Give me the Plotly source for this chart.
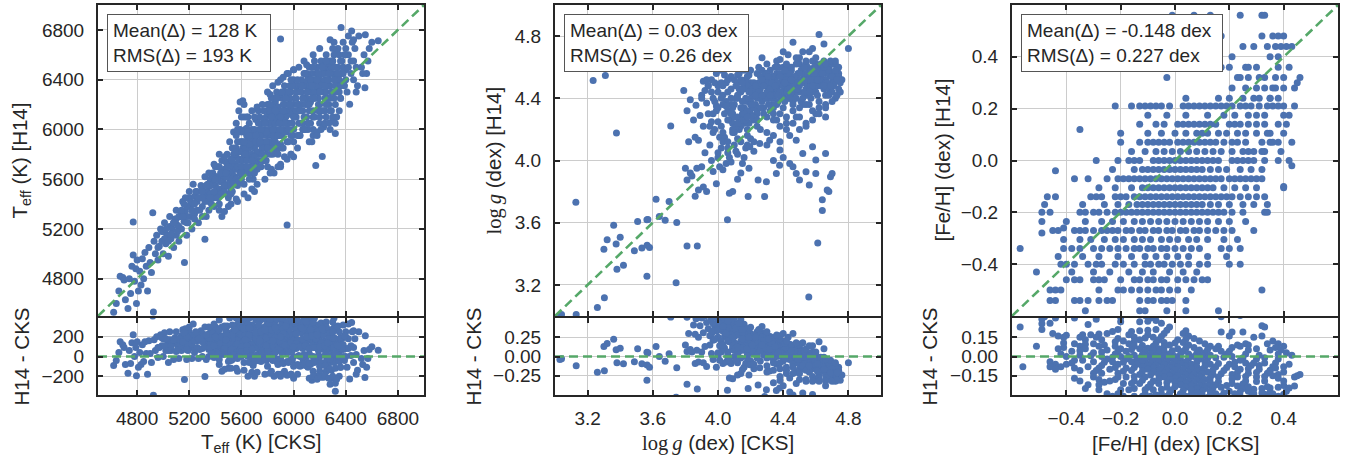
import plotly.graph_objects as go

# ---------------- Teff panel data (K) ----------------
teff_cks = [
    4620,4640,4660,4670,4690,4700,4710,4730,4740,4750,
    4760,4770,4770,4780,4790,4795,4800,4810,4820,4830,
    4840,4850,4860,4870,4880,4890,4900,4910,4920,4925,
    4930,4940,4950,4960,4970,4980,4990,5000,5000,5010,
    5020,5030,5040,5050,5050,5060,5070,5080,5090,5100,
    5100,5110,5120,5130,5140,5150,5160,5163,5170,5180,
    5190,5200,5200,5210,5220,5230,5240,5250,5260,5270,
    5280,5290,5300,5310,5320,5320,5330,5340,5350,5360,
    4960,4990,5020,5060,5080,5120,5140,5180,5210,5240,
    5260,5280,5300,5330,5350,5010,5040,5110,5170,5230,
    5370,5380,5390,5400,5400,5410,5420,5430,5440,5450,
    5450,5460,5470,5480,5490,5500,5500,5510,5520,5530,
    5530,5540,5550,5560,5570,5570,5580,5590,5600,5600,
    5610,5620,5630,5640,5650,5650,5660,5670,5680,5690,
    5700,5700,5710,5720,5730,5740,5750,5760,5770,5780,
    5380,5420,5460,5490,5520,5550,5580,5610,5640,5670,
    5400,5440,5480,5530,5560,5600,5630,5660,5690,5720,
    5420,5470,5510,5540,5590,5620,5650,5680,5710,5740,
    5540,5560,5580,5600,5620,5640,5590,5610,5630,5570,
    5450,5500,5560,5620,5680,5720,5470,5650,5700,5520,
    5790,5800,5800,5810,5820,5830,5840,5850,5860,5870,
    5880,5890,5900,5900,5910,5920,5930,5940,5950,5960,
    5970,5980,5990,6000,6000,6010,6020,6030,6040,6050,
    5790,5810,5830,5850,5870,5890,5910,5930,5950,5970,
    5800,5820,5840,5860,5880,5900,5920,5940,5960,5980,
    5760,5780,5800,5820,5840,5860,5880,5900,5920,5940,
    5780,5830,5880,5930,5980,6030,5850,5950,6000,5900,
    6060,6070,6080,6090,6100,6100,6110,6120,6130,6140,
    6150,6160,6170,6180,6190,6200,6210,6220,6230,6240,
    6250,6260,6270,6280,6290,6300,6310,6320,6330,6340,
    6350,6360,6370,6380,6390,6400,6364,6410,6420,6430,
    6060,6080,6100,6120,6140,6160,6180,6200,6220,6240,
    6070,6090,6110,6130,6150,6170,6190,6210,6230,6250,
    6260,6280,6300,6320,6340,6360,6380,6050,6090,6130,
    6150,6200,6250,6300,6350,6180,6280,6320,6120,6230,
    6440,6450,6460,6470,6480,6500,6520,6540,6547,6550,
    6560,6580,6600,6649,6460,6490,6445,6530,6570,6420,
    6280,6310,6200,6250,6330,6100,6000,5950,6400,6150,
    5300,5320,5340,5360,5380,5400,5420,5440,5460,5480,
    5500,5520,5540,5560,5580,5600,5620,5640,5660,5680,
    5700,5720,5740,5760,5780,5800,5820,5840,5860,5880,
    5900,5920,5940,5960,5980,6000,6020,6040,6060,6080,
    6100,6120,6140,6160,6180,6200,6220,6240,6260,6280,
    6300,6320,6340,6360,6380,6400,6420,6440,6460,6480,
    5410,5430,5450,5470,5490,5510,5530,5550,5570,5590,
    5610,5630,5650,5670,5690,5710,5730,5750,5770,5790,
    5810,5830,5850,5870,5890,5910,5930,5950,5970,5990,
    6010,6030,6050,6070,6090,6110,6130,6150,6170,6190,
    6210,6230,6250,6270,6290,6310,6330,6350,6370,6390,
    5350,5390,5430,5470,5510,5550,5590,5630,5670,5710,
    5750,5790,5830,5870,5910,5950,5990,6030,6070,6110,
    6150,6190,6230,6270,6310,6350,5560,5600,5640,5680,
    5720,5760,5800,5840,5880,5920,5960,6000,6040,6080,
    5100,5140,5180,5220,5260,5300,5240,5200,5160,5120,
    5660,5700,5740,5780,5820,5860,5900,5940,5980,6020,
    5350,5370,5390,5410,5430,5450,5470,5490,5510,5530,
    5550,5570,5590,5610,5630,5650,5670,5690,5710,5730,
    5750,5770,5790,5810,5830,5850,5870,5890,5910,5930,
    5950,5970,5990,6010,6030,6050,6070,6090,6110,6130,
    6150,6170,6190,6210,6230,6250,6270,6290,6310,6330,
    5360,5400,5440,5480,5520,5560,5600,5640,5680,5720,
    5760,5800,5840,5880,5920,5960,6000,6040,6080,6120,
    6160,6200,6240,6280,6320,6360,6400,6350,6300,6250,
    5600,5640,5680,5720,5760,5800,5840,5880,5920,5960,
    6000,6040,6080,6120,6160,6200,6240,6280,6320,6360,
    5620,5660,5700,5740,5780,5820,5860,5900,5940,5980,
    6020,6060,6100,6140,6180,6220,6260,6300,6340,6380,
    5240,5270,5300,5330,5360,5390,5420,5180,5150,5080,
    5520,5540,5580,5620,5660,5700,5740,5780,5820,5860,
    6150,6180,6210,6240,6270,6300,6330,5980,5900,5820,
]
teff_h14 = [
    4530,4600,4700,4820,4810,4790,4630,4560,4800,4680,
    4900,4990,5255,4780,4880,4600,4950,4700,4860,4750,
    4960,4800,5010,4900,4700,5050,4930,4850,5330,4532,
    5100,5000,5150,4950,5060,5200,5100,5000,5180,5250,
    5080,5150,4980,5220,5300,5120,5200,5050,5280,5150,
    5350,5230,5100,5300,5200,5420,5260,4930,5340,5150,
    5250,5380,5450,5300,5200,5400,5320,5500,5350,5250,
    5450,5550,5380,5480,5117,5620,5300,5500,5420,5600,
    5050,5180,5200,5160,5250,5220,5330,5300,5420,5460,
    5500,5350,5530,5450,5540,5120,5100,5180,5450,5560,
    5480,5650,5380,5550,5700,5450,5600,5350,5520,5750,
    5600,5480,5680,5550,5800,5450,5650,5720,5580,5850,
    5500,5700,5620,5780,5550,5900,5680,6220,5750,5600,
    5850,6100,5700,5950,5650,5800,6050,5750,5900,5600,
    5850,6000,5700,5950,6150,5800,5900,6050,5750,6000,
    5560,5500,5600,5650,5700,5720,5820,5680,5800,5870,
    5620,5650,5740,5650,5850,5900,6000,5850,5980,5820,
    5520,5560,5600,5800,5760,5650,5920,6000,6080,6100,
    5980,6050,6150,6100,6200,6010,6000,6230,5980,5420,
    5300,5380,5440,5480,5520,5560,5340,5450,5500,5400,
    6100,5950,6200,5850,6050,6250,5900,6150,6000,6300,
    6050,5950,6726,6150,6250,6000,6350,6100,5231,6200,
    6050,6300,6150,6000,6400,6250,6100,6350,6200,6050,
    5800,6000,5950,5850,6150,6280,5950,6200,6050,6350,
    6050,6120,6080,6220,6180,6050,6300,6250,6150,6200,
    5950,5900,6150,6280,6000,6100,5850,6400,6100,5980,
    5600,5680,5700,5780,5800,5850,5650,5760,5780,5720,
    6300,6150,6450,6250,6100,6350,6200,6500,6300,5900,
    6400,6250,5710,6500,6350,6200,6450,5782,6300,6550,
    6400,6250,6500,6350,6150,6450,6600,5968,6300,6500,
    6400,6250,6550,6700,6350,6480,6819,6300,6600,6202,
    6200,6350,6250,6150,6450,6550,6300,6400,6520,6250,
    6050,6380,6420,6220,6300,6450,6200,6550,6380,6480,
    6350,6550,6300,6420,6650,6450,6500,5950,6000,6050,
    6000,6050,6100,6080,6150,5980,6000,6050,5900,6020,
    6550,6700,6400,6650,6300,6750,6500,6600,6335,6761,
    6450,6650,6700,6713,6720,6350,6790,6450,6550,6750,
    6720,6700,6650,6600,6620,6520,6480,6450,6650,6600,
    5500,5420,5560,5480,5620,5480,5700,5580,5520,5620,
    5560,5760,5620,5680,5750,5820,5780,5700,5760,5800,
    5920,5880,5950,5850,6080,5900,5960,6180,5950,6120,
    6000,6200,6050,6280,6120,6200,6300,6150,6400,6250,
    6450,6350,6250,6380,6450,6300,6450,6400,6500,6450,
    6550,6500,6400,6550,6450,6600,6500,6450,6550,6500,
    5620,5700,5480,5780,5620,5540,5750,5850,5700,5900,
    5750,5850,5980,5680,5780,5900,5750,6000,5880,5980,
    6150,6050,6250,5950,6100,6080,6050,6300,6200,6050,
    6350,6200,6300,6250,6450,6300,6400,6150,6350,6250,
    6350,6450,6300,6400,6500,6400,6450,6350,6450,6600,
    5350,5450,5400,5500,5480,5600,5600,5650,5700,5720,
    5700,5750,5850,5820,5850,5900,5950,5950,6000,6050,
    6100,6150,6150,6200,6250,6300,5950,5980,6100,6150,
    6180,6200,6300,6350,6380,6420,6450,6480,6500,6550,
    5280,5350,5380,5350,5420,5450,5280,5500,5400,5300,
    5880,5780,6000,5850,5900,6050,5880,6150,5950,6150,
    5650,5400,5720,5600,5800,5650,5550,5700,5900,5600,
    5820,6000,5650,5900,5800,6100,5950,5700,5950,6050,
    6000,6150,5900,6200,6100,5950,6250,6050,6300,6150,
    6000,6250,6350,6100,6400,6150,6350,6200,6000,6400,
    6500,6350,6450,6150,6500,6200,6450,6300,6500,6350,
    5550,5600,5480,5650,5520,5600,5700,5750,5650,5700,
    5800,5850,6000,5950,6150,6000,6100,6050,6100,6200,
    6250,6300,6350,6250,6350,6350,6400,6600,6650,6550,
    5650,5700,5750,5680,5750,5700,5800,5800,5850,5900,
    5900,5950,6000,6050,6100,6100,6150,6150,6200,6250,
    5900,5950,6100,5900,6050,6200,6150,6100,6250,6400,
    6250,6350,6300,6350,6400,6500,6400,6550,6450,6380,
    5400,5450,5300,5550,5450,5500,5450,5250,5300,5250,
    5480,5560,5580,5560,5600,5650,5700,5750,5800,5900,
    5950,5950,6000,6050,6050,6100,6100,5800,5700,5650,
]

# ---------------- log g panel data (dex) ----------------
logg_cks = [
    3.92,3.94,3.96,3.98,4.00,4.00,4.02,4.04,4.06,4.08,
    4.10,4.10,4.12,4.14,4.16,4.18,4.20,4.20,4.22,4.24,
    4.26,4.28,4.30,4.30,4.32,4.34,4.36,4.38,4.40,4.40,
    4.42,4.44,4.46,4.48,4.50,4.50,4.52,4.54,4.56,4.58,
    4.60,4.60,4.62,4.64,4.66,4.68,4.70,4.70,4.72,4.74,
    3.95,3.99,4.03,4.07,4.11,4.15,4.19,4.23,4.27,4.31,
    4.35,4.39,4.43,4.47,4.51,4.55,4.59,4.63,4.67,4.71,
    4.05,4.09,4.13,4.17,4.21,4.25,4.29,4.33,4.37,4.41,
    4.45,4.49,4.53,4.57,4.61,4.65,4.69,4.73,4.75,4.72,
    4.01,4.04,4.08,4.12,4.16,4.20,4.24,4.28,4.32,4.36,
    4.40,4.44,4.48,4.52,4.56,4.60,4.64,4.68,4.58,4.62,
    4.14,4.18,4.22,4.26,4.30,4.34,4.38,4.42,4.46,4.50,
    4.54,4.58,4.62,4.66,4.70,4.74,4.10,4.06,4.02,3.98,
    4.25,4.29,4.33,4.37,4.41,4.45,4.49,4.53,4.57,4.61,
    4.27,4.31,4.35,4.39,4.43,4.47,4.51,4.55,4.59,4.63,
    4.46,4.52,4.62,4.58,4.65,4.80,4.38,4.43,4.27,4.50,
    3.79,3.83,3.865,3.91,3.94,3.81,3.89,3.91,3.88,3.82,
    3.86,3.93,3.96,3.90,3.97,3.85,3.99,3.95,3.92,3.98,
    3.80,3.81,3.83,3.86,3.88,3.91,3.93,3.87,3.90,3.97,
    3.99,4.03,4.05,4.00,4.02,4.06,4.08,4.10,4.12,4.14,
    4.04,4.07,4.09,4.11,4.13,4.15,4.17,4.01,3.96,3.84,
    4.16,4.18,4.20,4.22,4.19,4.14,4.09,4.12,4.07,4.03,
    4.185,4.246,4.297,4.286,4.358,4.378,4.44,4.48,4.50,4.54,
    4.56,4.60,4.64,4.64,4.67,4.69,4.70,4.68,4.60,4.66,
    4.58,4.52,4.48,4.38,4.317,4.256,4.195,4.40,4.46,4.34,
    4.24,4.30,4.36,4.42,4.48,4.54,4.60,4.66,4.28,4.44,
    3.234,3.309,3.128,3.377,3.710,3.36,3.32,3.30,3.375,3.40,
    3.38,3.42,3.487,3.533,3.565,3.564,3.507,3.564,3.62,3.64,
    3.676,3.70,3.747,3.743,3.81,3.873,4.058,4.612,4.557,3.303,
    3.26,3.13,3.04,3.57,3.58,3.03,
    4.12,4.16,4.20,4.24,4.28,4.32,4.36,4.40,4.44,4.48,
    4.52,4.56,4.60,4.64,4.68,4.72,4.35,4.45,4.55,4.65,
    4.18,4.22,4.26,4.30,4.34,4.38,4.42,4.46,4.50,4.54,
    4.58,4.62,4.66,4.70,4.74,4.08,4.12,4.16,4.20,4.24,
    3.90,3.93,3.96,3.99,4.02,4.05,4.08,4.11,4.14,4.17,
    4.20,4.23,4.26,4.29,4.32,4.35,4.38,4.41,4.44,4.47,
    4.50,4.53,4.56,4.59,4.62,4.65,4.68,4.71,4.74,4.76,
    3.97,4.00,4.03,4.06,4.09,4.12,4.15,4.18,4.21,4.24,
    4.27,4.30,4.33,4.36,4.39,4.42,4.45,4.48,4.51,4.54,
    4.57,4.60,4.63,4.66,4.69,4.72,4.75,4.10,4.13,4.16,
    4.19,4.22,4.25,4.28,4.31,4.34,4.37,4.40,4.43,4.46,
    4.49,4.52,4.55,4.58,4.61,4.64,4.67,4.70,4.73,4.56,
    4.30,4.34,4.38,4.42,4.46,4.50,4.54,4.58,4.62,4.66,
    4.02,4.06,4.10,4.14,4.18,4.22,4.26,4.30,4.34,4.38,
    4.00,4.03,4.06,4.09,4.12,4.15,4.18,4.21,4.24,4.05,
    4.08,4.11,4.14,4.17,4.20,4.23,4.26,4.29,4.32,4.35,
    4.38,4.41,4.44,4.47,4.50,4.53,4.56,4.59,4.62,4.65,
    4.68,4.71,4.74,4.33,4.37,4.41,4.45,4.49,4.53,4.57,
    4.61,4.65,4.69,4.73,4.15,4.19,4.23,4.27,4.31,4.35,
    3.94,3.97,4.00,4.03,4.06,4.09,4.12,4.15,4.18,4.21,
    4.62,4.66,4.70,4.58,4.54,4.50,4.46,4.42,4.38,4.34,
    4.30,4.36,4.42,4.48,4.54,4.60,4.66,4.72,4.56,4.40,
]
logg_h14 = [
    4.45,4.30,4.52,4.38,4.25,4.48,4.40,4.55,4.32,4.46,
    4.36,4.52,4.28,4.44,4.58,4.38,4.50,4.30,4.42,4.56,
    4.46,4.34,4.52,4.40,4.58,4.44,4.36,4.50,4.56,4.42,
    4.48,4.60,4.38,4.52,4.44,4.62,4.56,4.46,4.58,4.50,
    4.54,4.62,4.48,4.58,4.52,4.60,4.50,4.56,4.62,4.46,
    4.22,4.35,4.48,4.26,4.40,4.30,4.55,4.36,4.58,4.46,
    4.52,4.40,4.54,4.44,4.58,4.50,4.46,4.54,4.58,4.52,
    4.50,4.20,4.46,4.52,4.34,4.50,4.42,4.36,4.48,4.52,
    4.42,4.56,4.50,4.40,4.56,4.46,4.54,4.58,4.50,4.40,
    4.15,4.30,4.40,4.55,4.24,4.46,4.30,4.54,4.32,4.56,
    4.34,4.50,4.62,4.36,4.52,4.44,4.50,4.56,4.64,4.38,
    4.62,4.48,4.26,4.40,4.48,4.54,4.42,4.58,4.52,4.34,
    4.62,4.55,4.60,4.42,4.62,4.54,4.60,4.44,4.58,4.50,
    4.60,4.50,4.48,4.60,4.46,4.54,4.48,4.54,4.48,4.58,
    4.38,4.36,4.46,4.54,4.40,4.50,4.38,4.44,4.52,4.48,
    4.76,4.70,4.81,4.72,4.75,4.72,4.65,4.68,4.66,4.66,
    4.45,4.39,4.355,4.51,4.48,4.32,4.29,4.22,4.13,4.12,
    4.15,4.37,4.25,4.42,4.18,4.26,4.32,4.10,4.05,4.20,
    3.95,3.875,3.92,3.77,3.81,3.83,3.80,3.95,3.96,3.93,
    3.85,3.94,3.98,4.02,4.08,4.05,3.99,4.10,4.04,4.12,
    4.15,4.02,4.18,4.06,4.20,3.98,4.08,3.96,4.00,3.90,
    4.02,4.10,4.14,4.06,3.95,3.92,3.80,3.88,3.79,4.12,
    3.768,3.875,3.864,3.768,3.917,3.97,3.98,3.917,3.875,3.928,
    3.843,3.917,3.747,3.678,3.81,3.896,3.917,3.80,4.003,4.045,
    4.088,4.045,4.13,4.067,4.13,4.109,4.088,4.02,3.96,4.00,
    4.22,4.18,4.26,4.20,4.28,4.24,4.30,4.28,4.30,4.16,
    4.514,4.546,3.732,4.177,4.222,3.583,3.49,3.43,3.463,3.506,
    3.30,3.327,3.42,3.438,3.455,3.256,3.608,3.619,3.751,3.64,
    3.615,3.736,3.602,3.214,3.45,3.45,3.619,3.47,3.122,3.118,
    3.054,3.01,3.01,3.62,3.44,2.99,
    4.42,4.34,4.40,4.48,4.42,4.50,4.46,4.48,4.40,4.46,
    4.52,4.54,4.50,4.62,4.46,4.56,4.60,4.58,4.60,4.64,
    4.54,4.50,4.54,4.44,4.40,4.56,4.52,4.48,4.52,4.42,
    4.44,4.54,4.56,4.44,4.60,4.36,4.50,4.46,4.38,4.32,
    4.40,4.52,4.44,4.56,4.50,4.38,4.54,4.48,4.52,4.40,
    4.58,4.44,4.50,4.56,4.46,4.42,4.54,4.50,4.56,4.48,
    4.56,4.44,4.52,4.60,4.56,4.50,4.58,4.48,4.56,4.52,
    4.30,4.44,4.36,4.52,4.30,4.40,4.46,4.32,4.46,4.40,
    4.52,4.56,4.54,4.50,4.44,4.44,4.60,4.40,4.50,4.56,
    4.52,4.48,4.62,4.50,4.64,4.58,4.44,4.28,4.56,4.30,
    4.24,4.34,4.44,4.48,4.40,4.30,4.38,4.60,4.46,4.36,
    4.50,4.40,4.56,4.48,4.42,4.56,4.50,4.54,4.42,4.36,
    4.28,4.34,4.30,4.24,4.32,4.28,4.36,4.32,4.34,4.36,
    4.22,4.12,4.18,4.22,4.16,4.12,4.20,4.10,4.16,4.12,
    4.05,4.18,4.08,4.24,4.14,4.26,4.20,4.28,4.26,4.35,
    4.30,4.22,4.34,4.26,4.36,4.42,4.34,4.40,4.42,4.36,
    4.44,4.38,4.46,4.54,4.48,4.52,4.44,4.56,4.52,4.48,
    4.42,4.50,4.54,4.50,4.42,4.58,4.52,4.46,4.60,4.58,
    4.52,4.60,4.48,4.52,4.50,4.44,4.48,4.42,4.54,4.48,
    4.48,4.40,4.34,4.42,4.26,4.34,4.24,4.38,4.28,4.36,
    4.30,4.34,4.38,4.26,4.22,4.20,4.24,4.28,4.22,4.26,
    4.62,4.64,4.62,4.66,4.64,4.66,4.62,4.64,4.70,4.70,
]

# ---------------- [Fe/H] panel data (dex) ----------------
# H14 metallicities come in discrete levels; CKS values read along each level
feh_h14_levels = [0.56, 0.48, 0.44, 0.40, 0.36, 0.32, 0.28, 0.24, 0.21, 0.175,
                  0.14, 0.105, 0.07, 0.035, 0.0, -0.035, -0.07, -0.105, -0.14, -0.17,
                  -0.20, -0.235, -0.27, -0.305, -0.34, -0.37, -0.40, -0.43, -0.46, -0.50,
                  -0.54, -0.58]
feh_cks_by_level = [
    [-0.01, 0.07, 0.13, 0.24, 0.32, 0.33],
    [0.17, 0.32, 0.36, 0.38, 0.40],
    [0.25, 0.29, 0.34, 0.37, 0.39, 0.41, 0.43],
    [0.21, 0.35, 0.38],
    [0.17, 0.26, 0.27, 0.30, 0.38],
    [-0.03, 0.24, 0.27, 0.31, 0.33, 0.37, 0.46],
    [0.21, 0.26, 0.30, 0.33, 0.36, 0.40, 0.44],
    [0.04, 0.16, 0.20, 0.25, 0.29, 0.31, 0.35, 0.38],
    [-0.22, -0.16, -0.13, -0.11, -0.09, -0.07, -0.05, -0.02, 0.03, 0.05, 0.07, 0.09,
     0.11, 0.13, 0.15, 0.17, 0.19, 0.21, 0.24, 0.26, 0.28, 0.31, 0.34],
    [-0.10, -0.03, 0.04, 0.12, 0.18, 0.22, 0.27, 0.30, 0.33, 0.40],
    [-0.13, -0.07, -0.04, 0.01, 0.03, 0.05, 0.07, 0.09, 0.11, 0.13, 0.15, 0.20,
     0.22, 0.24, 0.27, 0.30, 0.33],
    [-0.20, -0.10, -0.05, 0.00, 0.04, 0.08, 0.10, 0.12, 0.16, 0.19, 0.23, 0.26, 0.35, 0.40],
    [-0.20, -0.13, -0.10, -0.08, -0.06, -0.04, -0.02, 0.01, 0.03, 0.05, 0.07, 0.09,
     0.11, 0.13, 0.15, 0.18, 0.21, 0.23, 0.26, 0.32, 0.35, 0.38],
    [-0.16, -0.11, -0.07, -0.04, -0.01, 0.02, 0.05, 0.08, 0.11, 0.14, 0.17, 0.21,
     0.25, 0.29, 0.33],
    [-0.29, -0.21, -0.17, -0.15, -0.13, -0.08, -0.06, -0.04, -0.02, 0.00, 0.02, 0.04,
     0.06, 0.08, 0.10, 0.12, 0.14, 0.16, 0.21, 0.23, 0.25, 0.27, 0.29, 0.33, 0.38, 0.42],
    [-0.23, -0.15, -0.12, -0.10, -0.08, -0.06, -0.04, -0.02, 0.00, 0.02, 0.04, 0.06,
     0.08, 0.10, 0.13, 0.16, 0.19, 0.24, 0.28, 0.32],
    [-0.37, -0.32, -0.25, -0.21, -0.19, -0.17, -0.15, -0.13, -0.11, -0.09, -0.07, -0.05,
     -0.03, -0.01, 0.01, 0.03, 0.05, 0.07, 0.09, 0.11, 0.13, 0.15, 0.17, 0.20, 0.22,
     0.24, 0.26, 0.28, 0.30, 0.32],
    [-0.28, -0.22, -0.16, -0.12, -0.10, -0.08, -0.06, -0.04, -0.02, 0.00, 0.02, 0.04,
     0.06, 0.08, 0.10, 0.12, 0.14, 0.18, 0.22, 0.26, 0.30, 0.40],
    [-0.47, -0.44, -0.31, -0.29, -0.27, -0.22, -0.20, -0.18, -0.15, -0.13, -0.11, -0.09,
     -0.07, -0.05, -0.03, -0.01, 0.01, 0.03, 0.05, 0.07, 0.09, 0.11, 0.13, 0.15, 0.17,
     0.19, 0.21, 0.24, 0.27, 0.30, 0.33],
    [-0.48, -0.34, -0.26, -0.21, -0.17, -0.14, -0.12, -0.10, -0.08, -0.06, -0.04, -0.02,
     0.00, 0.02, 0.04, 0.06, 0.08, 0.10, 0.13, 0.16, 0.20, 0.25, 0.29, 0.34],
    [-0.49, -0.46, -0.35, -0.33, -0.30, -0.28, -0.25, -0.22, -0.20, -0.18, -0.16, -0.14,
     -0.12, -0.10, -0.08, -0.06, -0.04, -0.02, 0.00, 0.02, 0.04, 0.06, 0.08, 0.10, 0.12,
     0.14, 0.16, 0.18, 0.21, 0.25, 0.33, 0.34],
    [-0.49, -0.40, -0.33, -0.27, -0.23, -0.19, -0.15, -0.12, -0.09, -0.06, -0.03, 0.00,
     0.03, 0.06, 0.09, 0.12, 0.16, 0.20, 0.26],
    [-0.45, -0.43, -0.37, -0.35, -0.33, -0.30, -0.27, -0.25, -0.23, -0.21, -0.18, -0.16,
     -0.13, -0.11, -0.08, -0.06, -0.03, -0.01, 0.02, 0.04, 0.07, 0.09, 0.12, 0.15, 0.18,
     0.21, 0.29],
    [-0.41, -0.35, -0.31, -0.26, -0.22, -0.19, -0.15, -0.12, -0.09, -0.05, -0.02, 0.01,
     0.05, 0.08, 0.12, 0.18, 0.23],
    [-0.57, -0.41, -0.38, -0.35, -0.30, -0.27, -0.24, -0.21, -0.18, -0.15, -0.13, -0.10,
     -0.08, -0.05, -0.03, 0.00, 0.03, 0.06, 0.09, 0.17, 0.20, 0.24],
    [-0.43, -0.34, -0.28, -0.21, -0.16, -0.11, -0.07, -0.03, 0.01, 0.05, 0.12, 0.19],
    [-0.42, -0.40, -0.37, -0.32, -0.29, -0.27, -0.22, -0.19, -0.15, -0.11, -0.09, -0.06,
     -0.04, -0.01, 0.02, 0.05, 0.09, 0.12, 0.20, 0.24],
    [-0.51, -0.38, -0.30, -0.24, -0.17, -0.12, -0.08, -0.02, 0.03, 0.08],
    [-0.40, -0.37, -0.35, -0.30, -0.28, -0.26, -0.20, -0.15, -0.13, -0.10, -0.08, -0.05,
     -0.03, 0.01, 0.04, 0.07, 0.10, 0.12],
    [-0.46, -0.44, -0.42, -0.28, -0.21, -0.19, -0.16, -0.13, -0.10, -0.07, -0.05, -0.02,
     0.01, 0.06, 0.32],
    [-0.46, -0.44, -0.37, -0.35, -0.32, -0.28, -0.25, -0.23, -0.13, -0.10, -0.08, -0.05,
     -0.03, -0.01, 0.04],
    [-0.33, -0.13, -0.11, -0.03, 0.04, 0.16],
]
feh_cks_extra = [-0.44, -0.35, 0.40, 0.43, 0.45, -0.56, -0.41, -0.49,
                 0.36, 0.38, 0.40, 0.42, 0.30, 0.34, 0.38, 0.41, 0.27, 0.32,
                 0.36, 0.39, 0.43, 0.44, 0.20, 0.23, 0.35, 0.37, 0.40, 0.42]
feh_h14_extra = [-0.04, 0.12, -0.10, -0.02, 0.30, -0.64, -0.26, -0.28,
                 0.21, 0.21, 0.21, 0.175, 0.105, 0.105, 0.14, 0.14, 0.035, 0.035,
                 0.07, 0.035, 0.07, 0.21, 0.36, 0.32, 0.24, 0.28, 0.32, 0.36]

feh_cks, feh_h14 = [], []
for lv, row in zip(feh_h14_levels, feh_cks_by_level):
    feh_cks += row
    feh_h14 += [lv] * len(row)
feh_cks += feh_cks_extra
feh_h14 += feh_h14_extra

# ---------------- axes / labels ----------------
teff_ticks = [4800, 5200, 5600, 6000, 6400, 6800]
teff_res_ticks = [-200, 0, 200]
logg_ticks = [3.2, 3.6, 4.0, 4.4, 4.8]
logg_res_ticks = [-0.25, 0.0, 0.25]
feh_ticks = [-0.4, -0.2, 0.0, 0.2, 0.4]
feh_res_ticks = [-0.15, 0.0, 0.15]

stats_text = [
    "Mean(Δ) = 128 K<br>RMS(Δ) = 193 K",
    "Mean(Δ) = 0.03 dex<br>RMS(Δ) = 0.26 dex",
    "Mean(Δ) = -0.148 dex<br>RMS(Δ) = 0.227 dex",
]

W, H = 1354, 461
BLUE = "#4C72B0"
GREEN = "#55A868"
INK = "#262626"
GRIDC = "#cccccc"
FONT = "Liberation Sans, Arial, Helvetica, sans-serif"
SERIF = "Liberation Serif, DejaVu Serif, serif"
LOGG = f'<span style="font-family:{SERIF}">log\u2009<i>g</i></span>'
TICK_SIZE = 19


def fx(p):
    return p / W


def fy(p):
    return 1 - p / H


panels = [
    dict(cks=teff_cks, h14=teff_h14, rng=[4500, 7000], rrng=[-390, 390],
         ticks=teff_ticks, rticks=teff_res_ticks, fmt="d", rfmt="d",
         xdom=[97, 425], xtitle="T<sub>eff</sub> (K) [CKS]",
         ytitle="T<sub>eff</sub> (K) [H14]", ytx=20, rtx=21, box_w=164),
    dict(cks=logg_cks, h14=logg_h14, rng=[3.0, 5.0], rrng=[-0.5, 0.5],
         ticks=logg_ticks, rticks=logg_res_ticks, fmt=".1f", rfmt=".2f",
         xdom=[554, 882], xtitle=LOGG + " (dex) [CKS]",
         ytitle=LOGG + " (dex) [H14]", ytx=493, rtx=473, box_w=185),
    dict(cks=feh_cks, h14=feh_h14, rng=[-0.6, 0.6], rrng=[-0.3, 0.3],
         ticks=feh_ticks, rticks=feh_res_ticks, fmt=".1f", rfmt=".2f",
         xdom=[1011, 1339], xtitle="[Fe/H] (dex) [CKS]",
         ytitle="[Fe/H] (dex) [H14]", ytx=942, rtx=929, box_w=202),
]

MAIN_TOP, MAIN_BOT, RES_BOT = 4, 317, 396
LW = 2  # frame line width; plotly draws it just outside the domain

axis_common = dict(
    showline=True, linecolor=INK, linewidth=LW, mirror="ticks",
    ticks="inside", ticklen=5, tickwidth=1.5, tickcolor=INK,
    showgrid=True, gridcolor=GRIDC, gridwidth=1.3, zeroline=False,
    tickfont=dict(family=FONT, size=TICK_SIZE, color=INK),
)

fig = go.Figure()
layout = dict(
    width=W, height=H, autosize=False,
    margin=dict(l=0, r=0, t=0, b=0),
    paper_bgcolor="white", plot_bgcolor="white",
    showlegend=False, font=dict(family=FONT, color=INK),
)
annotations = []

for i, p in enumerate(panels):
    mid = 2 * i + 1
    rid = 2 * i + 2
    mx = "x" if mid == 1 else f"x{mid}"
    my = "y" if mid == 1 else f"y{mid}"
    rx, ry = f"x{rid}", f"y{rid}"
    res = [h - c for c, h in zip(p["cks"], p["h14"])]
    lo, hi = p["rng"]
    xd = [fx(p["xdom"][0] + 1), fx(p["xdom"][1] - 1)]
    main_dom = [fy(MAIN_BOT - 1), fy(MAIN_TOP + 1)]
    res_dom = [fy(RES_BOT - 1), fy(MAIN_BOT + 1)]

    fig.add_trace(go.Scatter(x=p["cks"], y=p["h14"], mode="markers", xaxis=mx, yaxis=my,
                             marker=dict(size=7, color=BLUE, line=dict(width=0)),
                             hoverinfo="skip"))
    fig.add_trace(go.Scatter(x=[lo, hi], y=[lo, hi], mode="lines", xaxis=mx, yaxis=my,
                             line=dict(color=GREEN, width=2.6, dash="9px,5px"),
                             hoverinfo="skip"))
    fig.add_trace(go.Scatter(x=p["cks"], y=res, mode="markers", xaxis=rx, yaxis=ry,
                             marker=dict(size=7, color=BLUE, line=dict(width=0)),
                             hoverinfo="skip"))
    fig.add_trace(go.Scatter(x=[lo, hi], y=[0, 0], mode="lines", xaxis=rx, yaxis=ry,
                             line=dict(color=GREEN, width=2.6, dash="9px,5px"),
                             hoverinfo="skip"))

    kx_m = "xaxis" if mid == 1 else f"xaxis{mid}"
    ky_m = "yaxis" if mid == 1 else f"yaxis{mid}"
    layout[kx_m] = dict(axis_common, domain=xd, range=p["rng"], anchor=my,
                        tickvals=p["ticks"], tickformat=p["fmt"], showticklabels=False)
    layout[ky_m] = dict(axis_common, domain=main_dom, range=p["rng"],
                        anchor=mx, tickvals=p["ticks"], tickformat=p["fmt"],
                        ticklabelstandoff=8)
    layout[f"xaxis{rid}"] = dict(axis_common, domain=xd, range=p["rng"], anchor=ry,
                                 tickvals=p["ticks"], tickformat=p["fmt"],
                                 ticklabelstandoff=5)
    layout[f"yaxis{rid}"] = dict(axis_common, domain=res_dom,
                                 range=p["rrng"], anchor=rx, tickvals=p["rticks"],
                                 tickformat=p["rfmt"], ticklabelstandoff=8)

    # stats box
    annotations.append(dict(
        xref="paper", yref="paper", x=fx(p["xdom"][0] + 10), y=fy(MAIN_TOP + 10),
        xanchor="left", yanchor="top", text=stats_text[i], showarrow=False, align="left",
        font=dict(family=FONT, size=19, color=INK), bgcolor="white",
        bordercolor="#555555", borderwidth=1, borderpad=5, width=p["box_w"] - 12,
    ))
    # axis titles
    annotations.append(dict(
        xref="paper", yref="paper", x=fx((p["xdom"][0] + p["xdom"][1]) / 2), y=fy(443),
        xanchor="center", yanchor="middle", text=p["xtitle"], showarrow=False,
        font=dict(family=FONT, size=20.5, color=INK)))
    annotations.append(dict(
        xref="paper", yref="paper", x=fx(p["ytx"]), y=fy((MAIN_TOP + MAIN_BOT) / 2),
        xanchor="center", yanchor="middle", text=p["ytitle"], showarrow=False,
        textangle=-90, font=dict(family=FONT, size=20.5, color=INK)))
    annotations.append(dict(
        xref="paper", yref="paper", x=fx(p["rtx"]), y=fy((MAIN_BOT + RES_BOT) / 2),
        xanchor="center", yanchor="middle", text="H14 - CKS", showarrow=False,
        textangle=-90, font=dict(family=FONT, size=20.5, color=INK)))

layout["annotations"] = annotations
fig.update_layout(**layout)
fig.write_html(
    "out.html",
    config={"displayModeBar": False},
    post_script="document.body.style.margin='0px';document.body.style.overflow='hidden';",
)
